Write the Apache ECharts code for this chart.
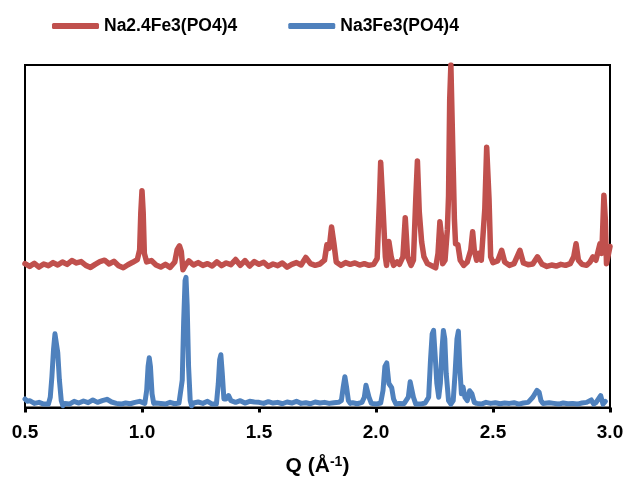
<!DOCTYPE html>
<html>
<head>
<meta charset="utf-8">
<script src="https://cdn.jsdelivr.net/npm/echarts@6/dist/echarts.min.js"></script>
<style>html,body{margin:0;padding:0;background:#fff;}#c{width:628px;height:482px;}</style>
</head>
<body>
<div id="c"></div>
<script>
const seriesNames = ['Na2.4Fe3(PO4)4', 'Na3Fe3(PO4)4'];
const xTicks = [0.5, 1.0, 1.5, 2.0, 2.5, 3.0];

const redQ = [0.50,0.52,0.54,0.56,0.58,0.60,0.62,0.64,0.66,0.68,0.70,0.72,0.74,0.76,0.78,0.80,0.82,0.84,0.86,0.88,0.90,0.92,0.94,0.96,0.98,0.99,0.995,1.00,1.005,1.01,1.02,1.04,1.06,1.08,1.10,1.12,1.14,1.15,1.16,1.168,1.175,1.185,1.20,1.22,1.24,1.26,1.28,1.30,1.32,1.34,1.36,1.38,1.40,1.42,1.44,1.46,1.48,1.50,1.52,1.54,1.56,1.58,1.60,1.62,1.64,1.66,1.68,1.70,1.72,1.74,1.76,1.78,1.79,1.80,1.81,1.82,1.83,1.85,1.87,1.89,1.91,1.93,1.95,1.97,1.99,2.005,2.015,2.02,2.028,2.04,2.045,2.055,2.065,2.075,2.09,2.10,2.115,2.125,2.135,2.15,2.16,2.17,2.177,2.185,2.195,2.205,2.22,2.24,2.255,2.265,2.273,2.28,2.285,2.295,2.305,2.31,2.315,2.32,2.33,2.335,2.34,2.35,2.36,2.375,2.39,2.405,2.413,2.42,2.43,2.44,2.45,2.465,2.473,2.483,2.49,2.50,2.52,2.537,2.55,2.57,2.59,2.615,2.63,2.65,2.67,2.69,2.71,2.73,2.75,2.77,2.79,2.81,2.83,2.845,2.855,2.865,2.88,2.90,2.915,2.927,2.94,2.957,2.965,2.974,2.98,2.985,2.99,3.00];
const redI = [42.0,41.2,42.1,41.0,41.9,41.4,42.3,41.6,42.5,41.8,42.9,42.2,42.6,41.5,40.9,41.8,42.6,43.0,41.9,42.7,41.4,40.8,41.7,42.4,43.2,46,57,63.3,57,45,42.5,42.9,41.6,41.0,41.8,40.9,42.5,46,47.2,45.5,40.2,41.5,42.8,41.6,42.3,41.5,42.0,41.3,42.5,41.4,42.2,41.7,43.2,41.5,42.9,41.3,42.6,41.8,42.4,41.2,41.9,41.4,42.2,41.0,41.8,42.3,41.6,43.8,42.0,41.5,41.9,43,47.5,46.5,52.7,48,42.5,41.5,42.3,41.8,42.2,41.6,42.0,41.5,41.8,43.5,61,71.6,61,44,41.5,48.5,44,41.5,42.5,41.8,44,55.4,44,41.5,43,61,72,57,48.4,44,42,41.3,40.8,45,54.2,50,42,43,52,61.7,90,100,70,55,47.8,47.5,43,41.5,42.5,46,51.3,46,43,45,43,58,76,61,44,42.3,42.8,45.9,42.5,41.5,42.0,45.9,42.2,41.7,41.9,44,41.8,41.2,41.6,41.3,41.8,41.5,42.0,44,47.8,43,41.8,41.5,42.5,44,43,47.8,45,62,55,42,41.5,47];

const blueQ = [0.50,0.51,0.52,0.54,0.56,0.58,0.60,0.608,0.615,0.622,0.628,0.634,0.640,0.647,0.655,0.662,0.67,0.69,0.71,0.73,0.75,0.77,0.79,0.81,0.83,0.85,0.87,0.89,0.91,0.93,0.95,0.97,0.99,1.012,1.02,1.026,1.031,1.036,1.043,1.05,1.06,1.08,1.10,1.12,1.14,1.158,1.165,1.172,1.178,1.184,1.188,1.193,1.199,1.206,1.212,1.22,1.24,1.26,1.28,1.30,1.318,1.326,1.332,1.337,1.343,1.35,1.36,1.37,1.38,1.40,1.42,1.44,1.46,1.48,1.50,1.52,1.54,1.56,1.58,1.60,1.62,1.64,1.66,1.68,1.70,1.72,1.74,1.76,1.78,1.80,1.82,1.84,1.852,1.86,1.867,1.874,1.882,1.89,1.90,1.92,1.94,1.95,1.957,1.963,1.97,1.98,2.00,2.02,2.03,2.038,2.046,2.055,2.067,2.075,2.085,2.10,2.12,2.138,2.146,2.153,2.16,2.17,2.19,2.21,2.225,2.233,2.24,2.246,2.253,2.26,2.268,2.275,2.282,2.288,2.294,2.30,2.31,2.32,2.33,2.338,2.346,2.352,2.358,2.365,2.372,2.38,2.39,2.40,2.41,2.42,2.43,2.45,2.47,2.49,2.51,2.53,2.55,2.57,2.59,2.61,2.63,2.65,2.67,2.688,2.697,2.705,2.713,2.72,2.74,2.76,2.78,2.80,2.82,2.84,2.86,2.88,2.90,2.92,2.93,2.94,2.96,2.97,2.98,3.00];
const blueI = [2.5,1.8,2.0,1.2,1.5,1.0,1.0,3,9,17,21.5,21.5,16,8,2,0.5,1.2,1.0,1.8,1.3,1.9,1.4,2.2,1.5,2.0,2.4,1.6,1.2,1.0,1.3,1.1,1.5,1.8,1.2,5,12,14.5,12,4,1.2,1.3,1.2,1.0,1.5,1.1,1.3,0.8,8,25,37,38,30,12,2,0.5,1.3,1.6,1.2,1.8,1.0,1.0,7,14,15.4,10,2.5,2.5,3.5,2.0,1.5,2.0,1.3,1.8,1.6,1.5,1.2,1.7,1.3,1.5,1.1,1.6,1.3,1.8,1.2,1.4,1.1,1.6,1.3,1.5,1.2,1.4,1.5,2,6,9,6,2,1.2,1.4,1.1,1.5,3,6.5,6.5,3,1.2,1.0,1.3,5,12,13,7,5.8,2.5,1.0,1.2,1.1,3,7.5,8,3,1.0,1.0,1.3,3,14,21.5,22.5,15,7,3,7,17,22.5,20,10,2,1.0,2,10,20,22.3,12,4,6,3,2,4.9,4,1.5,1.2,1.0,1.5,1.2,1.4,1.1,1.3,1.2,1.4,1.0,1.3,1.5,3,5,4.5,2,1.2,1.1,1.4,1.2,1.0,1.3,1.1,1.2,1.0,1.3,1.5,2.2,1.0,1.4,3.5,1.0,1.8];

function pairs(xs, ys) { return xs.map((x, i) => [x, ys[i]]); }

const font = "'Liberation Sans', Arial, sans-serif";
const chart = echarts.init(document.getElementById('c'), null, {renderer: 'canvas'});
chart.setOption({
  animation: false,
  backgroundColor: '#fff',
  legend: {
    top: 12, left: 47,
    itemWidth: 47, itemHeight: 6, itemGap: 51,
    icon: 'roundRect',
    textStyle: {fontFamily: font, fontSize: 17.5, fontWeight: 'bold', color: '#000'},
    data: seriesNames
  },
  grid: {left: 25, right: 18, top: 65, bottom: 72, show: true, borderColor: '#000', borderWidth: 2},
  xAxis: {
    type: 'value', min: xTicks[0], max: xTicks[xTicks.length - 1], interval: 0.5,
    axisLine: {show: true, lineStyle: {color: '#000', width: 2}},
    axisTick: {show: true, length: 5, lineStyle: {color: '#000', width: 3}},
    splitLine: {show: false},
    axisLabel: {fontFamily: font, fontSize: 19, fontWeight: 'bold', color: '#000', margin: 16,
      formatter: v => v.toFixed(1)},
    name: '{a|Q (Å}{b|-1}{a|)}',
    nameLocation: 'middle', nameGap: 48,
    nameTextStyle: {
      rich: {
        a: {fontFamily: font, fontSize: 21, fontWeight: 'bold', color: '#000'},
        b: {fontFamily: font, fontSize: 14, fontWeight: 'bold', color: '#000', verticalAlign: 'top', padding: [0,0,8,0]}
      }
    }
  },
  yAxis: {
    type: 'value', min: 0, max: 100,
    axisLine: {show: true, lineStyle: {color: '#000', width: 2}},
    axisTick: {show: false}, axisLabel: {show: false}, splitLine: {show: false}
  },
  series: [
    {name: seriesNames[0], type: 'line', data: pairs(redQ, redI), showSymbol: false, symbol: 'none',
     color: '#C0504D', lineStyle: {width: 5.5, color: '#C0504D', join: 'round', cap: 'round'}},
    {name: seriesNames[1], type: 'line', data: pairs(blueQ, blueI), showSymbol: false, symbol: 'none',
     color: '#4F81BD', lineStyle: {width: 5, color: '#4F81BD', join: 'round', cap: 'round'}}
  ]
});
</script>
</body>
</html>
